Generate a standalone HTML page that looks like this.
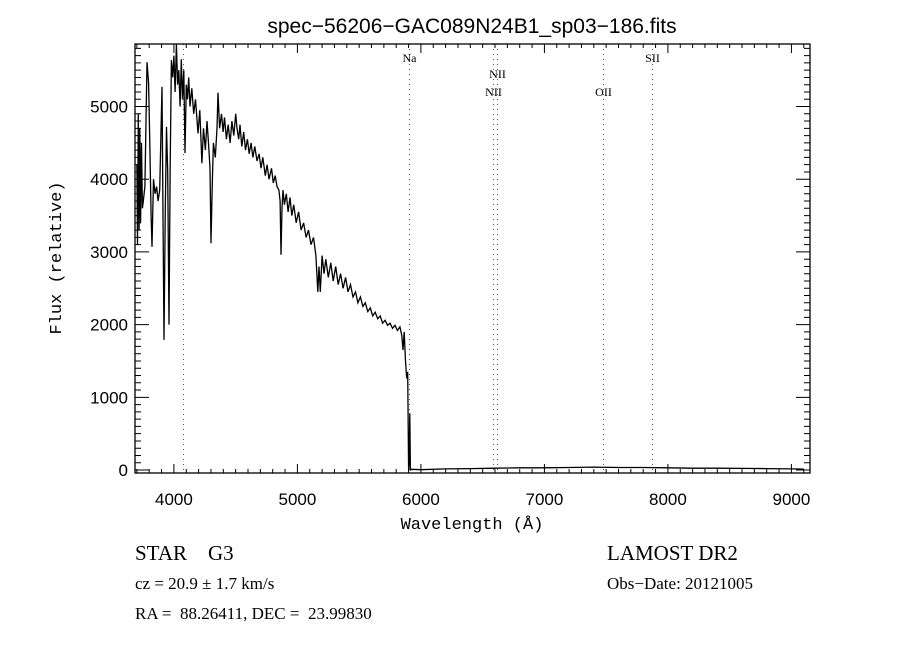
<!DOCTYPE html>
<html><head><meta charset="utf-8"><style>
html,body{margin:0;padding:0;background:#fff;}
svg{display:block;}
text{fill:#000;}
</style></head><body>
<svg id="chart" width="900" height="650" viewBox="0 0 900 650" xmlns="http://www.w3.org/2000/svg">
<rect width="900" height="650" fill="#fff"/>
<text x="472" y="33" text-anchor="middle" font-family="Liberation Sans, sans-serif" font-size="21">spec−56206−GAC089N24B1_sp03−186.fits</text>
<g id="lines"></g>
<g id="spec"></g>
<g id="axes"></g>
<text transform="translate(61,258) rotate(-90)" text-anchor="middle" font-family="Liberation Mono, monospace" font-size="17">Flux (relative)</text>
<text x="472" y="529" text-anchor="middle" font-family="Liberation Mono, monospace" font-size="17">Wavelength (Å)</text>
<text x="135" y="560" font-family="Liberation Serif, serif" font-size="21" xml:space="preserve">STAR    G3</text>
<text x="607" y="560" font-family="Liberation Serif, serif" font-size="21">LAMOST DR2</text>
<text x="135" y="589" font-family="Liberation Serif, serif" font-size="17">cz = 20.9 ± 1.7 km/s</text>
<text x="607" y="589" font-family="Liberation Serif, serif" font-size="17">Obs−Date: 20121005</text>
<text x="135" y="619" font-family="Liberation Serif, serif" font-size="17" xml:space="preserve">RA =  88.26411, DEC =  23.99830</text>
</svg>
<script>
const wavelengths = [3700,3705,3712,3718,3724,3730,3738,3745,3752,3765,3782,3795,3805,3815,3823,3835,3848,3860,3872,3885,3895,3904,3912,3920,3930,3940,3950,3960,3970,3980,3990,4000,4010,4020,4030,4040,4050,4060,4070,4080,4090,4100,4110,4120,4130,4145,4160,4175,4195,4210,4227,4240,4255,4268,4280,4292,4300,4310,4320,4335,4349,4357,4370,4385,4398,4410,4425,4440,4455,4470,4485,4500,4511,4525,4535,4550,4565,4580,4595,4610,4625,4640,4655,4673,4690,4705,4720,4740,4755,4770,4790,4805,4820,4835,4850,4860,4867,4875,4883,4895,4910,4925,4940,4955,4970,4990,5010,5030,5050,5070,5090,5110,5130,5150,5165,5175,5185,5200,5215,5230,5250,5270,5290,5310,5330,5350,5370,5390,5410,5430,5450,5470,5490,5510,5530,5550,5570,5590,5610,5630,5650,5670,5690,5710,5730,5750,5770,5790,5810,5830,5845,5855,5865,5875,5885,5893,5900,5905,5910,5915,5925,6000,6200,6400,6600,6800,7000,7200,7400,7600,7800,8000,8200,8400,8600,8800,9000,9100];
const fluxes = [4200,3100,4900,3300,4700,3400,4500,3600,3700,3900,5610,5320,4500,3500,3070,4000,3800,3900,3700,3850,4600,5270,3500,1790,3600,4720,4100,2000,4200,5640,5400,5700,5200,5860,5300,5500,5000,5650,5100,5500,4360,5300,5100,5400,5000,5250,4900,5100,4630,4950,4220,4700,4400,4800,4500,4150,3120,3900,4500,4300,4700,5190,4700,4900,4650,4850,4550,4750,4500,4800,4600,4900,4700,4550,4750,4450,4650,4400,4550,4350,4500,4300,4450,4250,4350,4150,4300,4050,4200,4000,4150,3950,4050,3900,3850,3700,2960,3600,3850,3650,3800,3550,3750,3500,3650,3400,3550,3300,3400,3200,3300,3100,3200,2950,2450,2800,2450,2950,2700,2900,2650,2850,2600,2800,2550,2700,2500,2650,2450,2550,2380,2450,2300,2380,2250,2300,2180,2230,2120,2170,2080,2120,2020,2060,1990,2020,1950,1990,1920,1970,1850,1650,1900,1500,1260,1350,0,100,780,0,10,5,15,20,25,30,30,35,40,35,35,30,25,25,22,20,15,12];
const xTickValues = [4000,5000,6000,7000,8000,9000];
const xTickLabels = ["4000","5000","6000","7000","8000","9000"];
const yTickValues = [0,1000,2000,3000,4000,5000];
const yTickLabels = ["0","1000","2000","3000","4000","5000"];
const lineWavelengths = [4071,5904,6584,6616,7474,7871];
const lineLabels = ["","Na","NII","NII","OII","SII"];
const lineLabelRows = [0,0,2,1,2,0];

const L=135,R=810,T=44,B=473;
const XMIN=3685,XMAX=3685+(R-L)*8.097;
const YMIN=-41,YMAX=5860;
function xs(v){return L+(v-XMIN)/(XMAX-XMIN)*(R-L);}
function ys(v){return B-(v-YMIN)/(YMAX-YMIN)*(B-T);}
const NS="http://www.w3.org/2000/svg";
function mk(tag,attrs,parent){const e=document.createElementNS(NS,tag);for(const k in attrs)e.setAttribute(k,attrs[k]);parent.appendChild(e);return e;}

const lg=document.getElementById('lines');
lineWavelengths.forEach((w,i)=>{
  const x=Math.round(xs(w))+0.5;
  const l=mk('line',{x1:x,x2:x,y1:T,y2:B,stroke:'#7a4a4a','stroke-width':1,'stroke-dasharray':'1,4'},lg);
  
  
  if(lineLabels[i]){
    const yy=lineLabelRows[i]===0?62:(lineLabelRows[i]===1?78:96);
    const t=mk('text',{x:x,y:yy,'text-anchor':'middle','font-family':'Liberation Serif, serif','font-size':12},lg);
    t.textContent=lineLabels[i];
    
    
  }
});

const sg=document.getElementById('spec');
let d='';
wavelengths.forEach((w,i)=>{d+=(i?'L':'M')+xs(w).toFixed(1)+','+ys(fluxes[i]).toFixed(1);});
const p=mk('path',{d:d,fill:'none',stroke:'#000','stroke-width':1.3},sg);



const ag=document.getElementById('axes');
const fr=mk('rect',{x:L,y:T,width:R-L,height:B-T,fill:'none',stroke:'#000','stroke-width':1.3},ag);


let td='';
for(let w=3700;w<=XMAX;w+=100){
  const x=xs(w);const major=w%1000===0;const len=major?9:4;
  td+=`M${x},${B}v${-len}M${x},${T}v${len}`;
}
for(let f=0;f<=YMAX;f+=100){
  const y=ys(f);const major=f%1000===0;const len=major?14:6;
  td+=`M${L},${y}h${len}M${R},${y}h${-len}`;
}
const tk=mk('path',{d:td,stroke:'#000','stroke-width':1,fill:'none'},ag);


xTickValues.forEach((v,i)=>{
  const t=mk('text',{x:xs(v),y:505,'text-anchor':'middle','font-family':'Liberation Sans, sans-serif','font-size':17},ag);
  t.textContent=xTickLabels[i];
  
  
});
yTickValues.forEach((v,i)=>{
  const t=mk('text',{x:128,y:ys(v)+6,'text-anchor':'end','font-family':'Liberation Sans, sans-serif','font-size':17},ag);
  t.textContent=yTickLabels[i];
  
  
});
</script>
</body></html>
